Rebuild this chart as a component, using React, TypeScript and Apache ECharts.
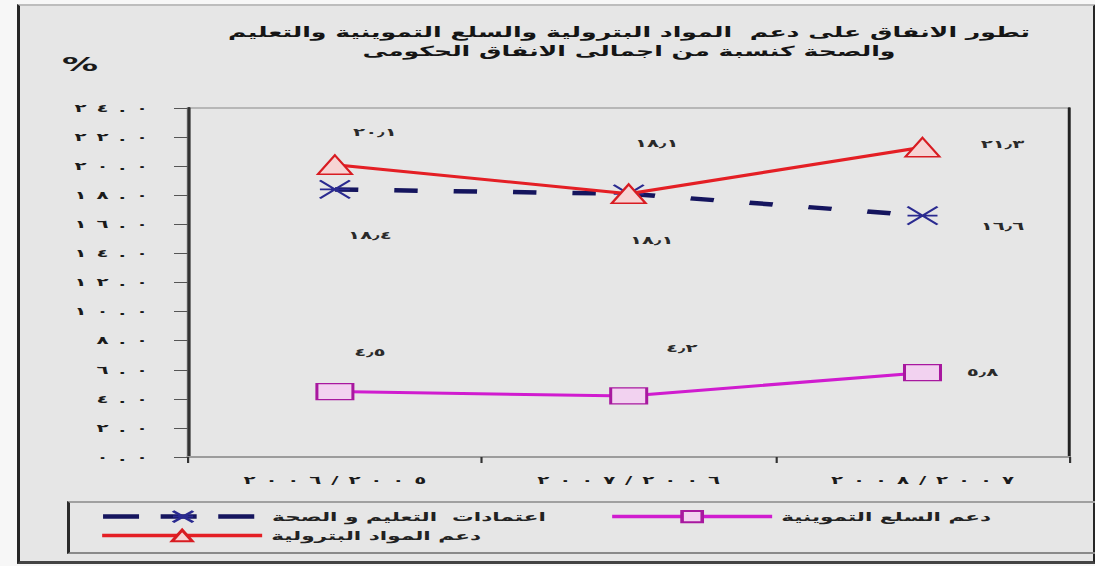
import { useEffect, useRef } from 'react';
import * as echarts from 'echarts';

// ---- data ----
const titleLines = [
  'تطور الانفاق على دعم  المواد البترولية والسلع التموينية والتعليم',
  'والصحة كنسبة من اجمالى الانفاق الحكومى',
];
const unitLabel = '%';
const categories = ['٢٠٠٦/٢٠٠٥', '٢٠٠٧/٢٠٠٦', '٢٠٠٨/٢٠٠٧'];
const nameEdu = 'اعتمادات  التعليم و الصحة';
const nameCommod = 'دعم السلع التموينية';
const namePetro = 'دعم المواد البترولية';
const petroleum = [20.1, 18.1, 21.3];
const eduHealth = [18.4, 18.1, 16.6];
const commodities = [4.5, 4.2, 5.8];
const yMin = 0;
const yMax = 24;
const yStep = 2;

// ---- helpers ----
const SX = 1.8; // horizontal stretch of the reference picture
const W = 1095;
const H = 566;
const AR = '٠١٢٣٤٥٦٧٨٩';
const toAr = (s: string) => s.replace(/[0-9]/g, (d) => AR[Number(d)]);
const LRO = '\u202D';
const PDF = '\u202C';
const spaced = (s: string, sep: string) => LRO + Array.from(s).join(sep) + PDF;
const px = (x: number) => x / SX;
const FONT = 'DejaVu Sans';

const COL_PETRO = '#e41f25';
const COL_COMMOD = '#d01ccf';
const COL_EDU = '#15155e';
const EDU_DASH = [13, 20];

export default function App() {
  const ref = useRef<HTMLDivElement>(null);
  useEffect(() => {
    if (!ref.current) return;
    const chart = echarts.init(ref.current, null, { renderer: 'svg' });
    const labelStyle = {
      show: true,
      position: 'inside',
      fontFamily: FONT,
      fontSize: 11,
      fontWeight: 'bold',
      color: '#2a2a2a',
      formatter: (p: any) => toAr(Number(p.value).toFixed(1)).replace('.', '٫'),
    };
    const withOffsets = (vals: number[], offs: number[][]) =>
      vals.map((v, i) => ({ value: v, label: { offset: [px(offs[i][0]), offs[i][1]] } }));
    const legendText = { fontFamily: FONT, fontSize: 12, fontWeight: 'bold', color: '#222' };

    chart.setOption({
      animation: false,
      backgroundColor: 'transparent',
      title: {
        text: titleLines.join('\n'),
        left: px(620),
        top: 18,
        textAlign: 'center',
        textStyle: { fontFamily: FONT, fontSize: 14, fontWeight: 'bold', lineHeight: 19, color: '#151515' },
      },
      grid: {
        left: px(188),
        right: px(W - 1070),
        top: 108,
        bottom: H - 457,
        show: true,
        borderColor: '#a8a8a8',
        borderWidth: 1.5,
        backgroundColor: 'transparent',
      },
      legend: [
        {
          data: [nameEdu],
          left: px(90),
          top: 505,
          itemWidth: px(160),
          itemHeight: 14,
          lineStyle: { width: 4.5, type: [20, 12], color: COL_EDU },
          textStyle: legendText,
        },
        {
          data: [nameCommod],
          left: px(600),
          top: 505,
          itemWidth: px(160),
          itemHeight: 14,
          lineStyle: { width: 3.5, color: COL_COMMOD },
          textStyle: legendText,
        },
        {
          data: [namePetro],
          left: px(90),
          top: 524,
          itemWidth: px(160),
          itemHeight: 14,
          lineStyle: { width: 3.5, color: COL_PETRO },
          textStyle: legendText,
        },
      ],
      xAxis: {
        type: 'category',
        data: categories,
        boundaryGap: true,
        axisLine: { lineStyle: { color: '#9c9c9c', width: 2 } },
        axisTick: { show: true, length: 6, lineStyle: { color: '#333', width: 1.2 } },
        axisLabel: {
          margin: 18,
          fontFamily: FONT,
          fontSize: 11,
          fontWeight: 'bold',
          color: '#1a1a1a',
          formatter: (s: string) => spaced(s, '\u2002'),
        },
        splitLine: { show: false },
      },
      yAxis: [
        {
          type: 'value',
          min: yMin,
          max: yMax,
          interval: yStep,
          name: unitLabel,
          nameLocation: 'end',
          nameGap: 44,
          nameTextStyle: {
            fontFamily: FONT,
            fontSize: 20,
            fontWeight: 'bold',
            color: '#1a1a1a',
            align: 'right',
            verticalAlign: 'middle',
            padding: [0, px(190 - 100), 0, 0],
          },
          axisLine: { show: true, lineStyle: { color: '#333', width: 1.8 } },
          axisTick: { show: true, inside: false, length: px(14), lineStyle: { color: '#555', width: 1 } },
          axisLabel: {
            margin: px(40),
            fontFamily: FONT,
            fontSize: 11,
            fontWeight: 'bold',
            color: '#1a1a1a',
            formatter: (v: number) => spaced(toAr(v.toFixed(1)), '\u2002'),
          },
          splitLine: { show: false },
        },
        {
          type: 'value',
          position: 'right',
          min: yMin,
          max: yMax,
          interval: yStep,
          axisLine: { show: true, lineStyle: { color: '#222', width: 1.6 } },
          axisTick: { show: false },
          axisLabel: { show: false },
          splitLine: { show: false },
        },
      ],
      series: [
        {
          name: nameCommod,
          type: 'line',
          data: withOffsets(commodities, [[35, -39], [53, -48], [60, 0]]),
          symbol: 'rect',
          symbolSize: [px(36), 16],
          lineStyle: { color: COL_COMMOD, width: 3 },
          itemStyle: { color: '#f2d2f0', borderColor: '#a8189f', borderWidth: 1.5 },
          label: labelStyle,
          z: 3,
        },
        {
          name: nameEdu,
          type: 'line',
          data: withOffsets(eduHealth, [[35, 46], [23, 46], [80, 11]]),
          symbol: 'path://M0,0L20,20M20,0L0,20M0,10L20,10',
          symbolSize: [px(30), 18],
          lineStyle: { color: COL_EDU, width: 4.5, type: EDU_DASH },
          itemStyle: { color: 'rgba(0,0,0,0)', borderColor: '#2a2a90', borderWidth: 1.6 },
          label: labelStyle,
          z: 4,
        },
        {
          name: namePetro,
          type: 'line',
          data: withOffsets(petroleum, [[40, -32], [28, -51], [80, -3]]),
          symbol: 'triangle',
          symbolSize: [px(34), 19],
          lineStyle: { color: COL_PETRO, width: 3 },
          itemStyle: { color: '#f6d4d4', borderColor: '#d81c22', borderWidth: 1.5 },
          label: labelStyle,
          z: 5,
        },
      ],
    });
    return () => chart.dispose();
  }, []);

  return (
    <div style={{ position: 'fixed', left: 0, top: 0, width: W, height: H, background: '#f7f7f7', overflow: 'hidden' }}>
      <div
        style={{
          position: 'absolute',
          left: 17,
          top: 4,
          width: 1073,
          height: 555,
          background: '#e6e6e6',
          borderLeft: '3px solid #262626',
          borderTop: '2px solid #bdbdbd',
          borderRight: '3px solid #262626',
          borderBottom: '3px solid #444',
        }}
      />
      <div
        style={{
          position: 'absolute',
          left: 67,
          top: 501,
          width: 1025,
          height: 49,
          borderLeft: '3px solid #2a2a2a',
          borderTop: '2px solid #a0a0a0',
          borderBottom: '2px solid #8a8a8a',
        }}
      />
      <div
        ref={ref}
        style={{
          position: 'absolute',
          left: 0,
          top: 0,
          width: W / SX,
          height: H,
          transform: `scaleX(${SX})`,
          transformOrigin: '0 0',
        }}
      />
    </div>
  );
}
